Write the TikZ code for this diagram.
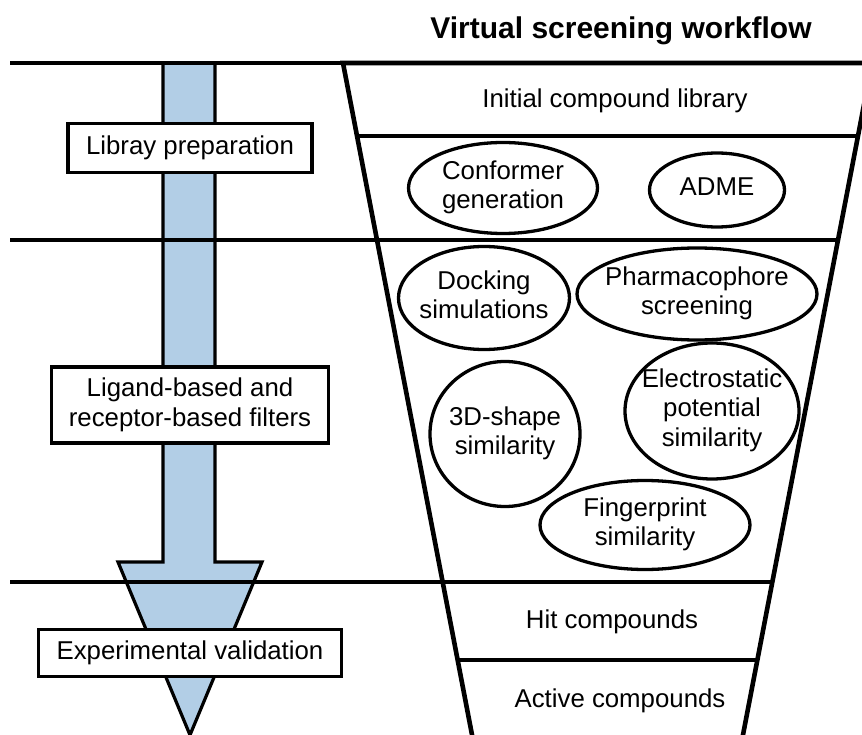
\documentclass[tikz,border=0pt]{standalone}
\usepackage{fontspec}
\setmainfont{Liberation Sans}
\usetikzlibrary{shapes.geometric}
\definecolor{arrowblue}{RGB}{178,206,230}
\begin{document}
\begin{tikzpicture}[x=1pt,y=-1pt,
  hline/.style={line width=3.4pt},
  funnelline/.style={line width=4.6pt, line join=miter},
  bodyfont/.style={font=\fontsize{25.8}{29.5}\selectfont},
  labelbox/.style={draw, line width=3.3pt, fill=white, inner sep=0pt, align=center, bodyfont},
  txt/.style={inner sep=0pt, align=center, bodyfont},
  ell/.style={draw, ellipse, line width=3.3pt, inner sep=0pt, bodyfont},
]
\clip (0,0) rectangle (862,735);
\fill[white] (0,0) rectangle (862,735);

% title
\node[inner sep=0pt, font=\fontsize{30}{36}\selectfont\bfseries] (title) at (621,31) {Virtual screening workflow};

% big arrow
\fill[arrowblue] (163,63) -- (163,562) -- (118,562) -- (190,735) -- (262,562) -- (215,562) -- (215,63) -- cycle;
\draw[line width=3.2pt, line join=miter] (163,63) -- (163,562) -- (118,562) -- (190,735) -- (262,562) -- (215,562) -- (215,63);

% horizontal separators
\draw[hline] (10,63) -- (345,63);
\draw[hline] (10,240) -- (840,240);
\draw[hline] (10,582) -- (773,582);
\draw[hline] (358,136) -- (858,136);
\draw[hline] (458,660) -- (756,660);

% funnel
\draw[funnelline] (473,740) -- (343,63) -- (872,63) -- (742,740);

% left step boxes
\node[labelbox, minimum width=244pt, minimum height=49pt] (prep) at (190,148) {Libray preparation};
\node[labelbox, minimum width=277pt, minimum height=76pt] (filters) at (190,405) {Ligand-based and\\receptor-based filters};
\node[labelbox, minimum width=303pt, minimum height=47pt] (valid) at (190,653) {Experimental validation};

% funnel labels
\node[txt] (initial) at (615,101) {Initial compound library};
\node[txt] (hit) at (612,622) {Hit compounds};
\node[txt] (active) at (620,701) {Active compounds};

% ellipses
\newcommand{\elltext}[1]{\makebox[0pt]{\begin{tabular}{@{}c@{}}#1\end{tabular}}}
\node[ell, minimum width=189pt, minimum height=91pt] (conf) at (503,188) {\elltext{Conformer\\generation}};
\node[ell, minimum width=135pt, minimum height=74pt] (adme) at (717,190) {\elltext{ADME}};
\node[ell, minimum width=171pt, minimum height=103pt] (dock) at (484,298) {\elltext{Docking\\simulations}};
\node[ell, minimum width=240pt, minimum height=92pt] (pharm) at (697,294) {\elltext{Pharmacophore\\screening}};
\node[ell, minimum width=150pt, minimum height=145pt] (shape) at (505,434) {\elltext{3D-shape\\similarity}};
\node[ell, minimum width=174pt, minimum height=136pt] (elec) at (712,411) {\elltext{Electrostatic\\potential\\similarity}};
\node[ell, minimum width=210pt, minimum height=89pt] (finger) at (645,525) {\elltext{Fingerprint\\similarity}};
\end{tikzpicture}
\end{document}
